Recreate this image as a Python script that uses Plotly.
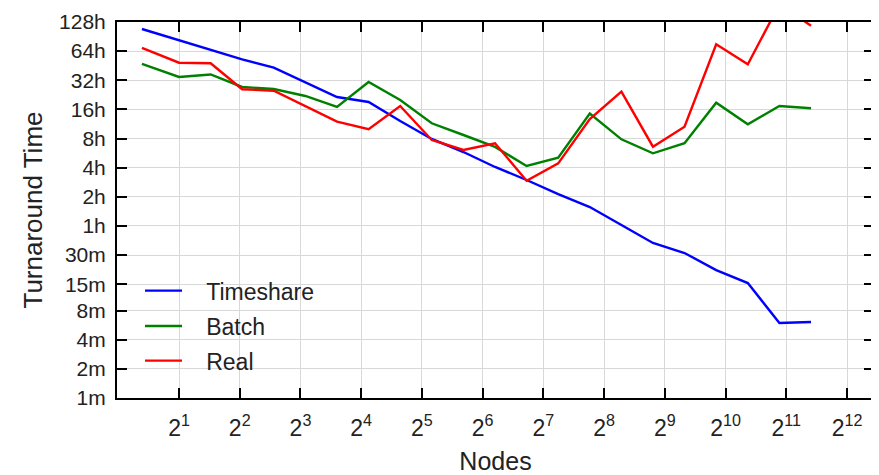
import plotly.graph_objects as go

# ---- data ----
nodes = [1.31, 2.0, 2.87, 4.11, 5.9, 8.46, 12.14, 17.41, 24.97, 35.8, 51.4,
         73.7, 105.7, 151.6, 217.4, 311.9, 447, 641, 920, 1320, 1893, 2715]

# turnaround time in minutes
timeshare = [6502, 5008, 3946, 3163, 2590, 1843, 1290, 1145, 728, 475, 348,
             244, 179, 128, 94, 61.3, 40, 31.5, 21.0, 15.4, 5.96, 6.1]
batch = [2829, 2077, 2203, 1636, 1561, 1321, 1017, 1843, 1201, 690, 522,
         393, 250, 304, 871, 471, 338, 429, 1126, 674, 1041, 986]
real = [4138, 2917, 2876, 1549, 1498, 1041, 717, 598, 1041, 464, 366,
        429, 176, 266, 764, 1463, 395, 636, 4520, 2809, 11706, 7036]

y_tickvals = [1, 2, 4, 8, 15, 30, 60, 120, 240, 480, 960, 1920, 3840, 7680]
y_ticktext = ["1m", "2m", "4m", "8m", "15m", "30m", "1h", "2h", "4h", "8h",
              "16h", "32h", "64h", "128h"]
x_exponents = list(range(1, 13))
x_tickvals = [2 ** e for e in x_exponents]
x_ticktext = ["2<sup>%d</sup>" % e for e in x_exponents]

series = [("Timeshare", timeshare, "#0000ff", "legend", 0.2854),
          ("Batch", batch, "#008000", "legend2", 0.1915),
          ("Real", real, "#ff0000", "legend3", 0.0992)]

FONT = "Liberation Sans, Arial, sans-serif"
PAD = "\u00a0\u00a0\u00a0"
fig = go.Figure()
legends = {}
for name, vals, color, lg, ly in series:
    fig.add_trace(go.Scatter(x=nodes, y=vals, mode="lines", name=PAD + name,
                             line=dict(color=color, width=2.4), legend=lg,
                             showlegend=True))
    legends[lg] = dict(x=0.0304, y=ly, xanchor="left", yanchor="middle",
                       bgcolor="rgba(0,0,0,0)", borderwidth=0, visible=True,
                       itemwidth=37, font=dict(family=FONT, size=23, color="#222"))

axis_common = dict(showline=True, linecolor="black", linewidth=2, mirror="ticks",
                   ticks="inside", ticklen=10, tickwidth=1.5, tickcolor="black",
                   showgrid=True, gridcolor="#d8d8d8", gridwidth=1.2,
                   zeroline=False, automargin=False)

# the page body adds an 8px offset; size the figure so the plot lands in place
fig.update_layout(
    width=871, height=467,
    margin=dict(l=109, r=5, t=14, b=77),
    paper_bgcolor="white", plot_bgcolor="white",
    showlegend=True,
    font=dict(family=FONT, color="#222"),
    xaxis=dict(type="log", range=[-0.0063, 3.746], tickvals=x_tickvals,
               ticktext=x_ticktext, tickfont=dict(size=23),
               ticklabelstandoff=8,
               title=dict(text="Nodes", font=dict(size=25), standoff=18),
               **axis_common),
    yaxis=dict(type="log", range=[0, 3.8854], tickvals=y_tickvals,
               ticktext=y_ticktext, tickfont=dict(size=21),
               ticklabelstandoff=5,
               title=dict(text="Turnaround Time", font=dict(size=26), standoff=9),
               **axis_common),
    **legends,
)

fig.write_html("out.html")
